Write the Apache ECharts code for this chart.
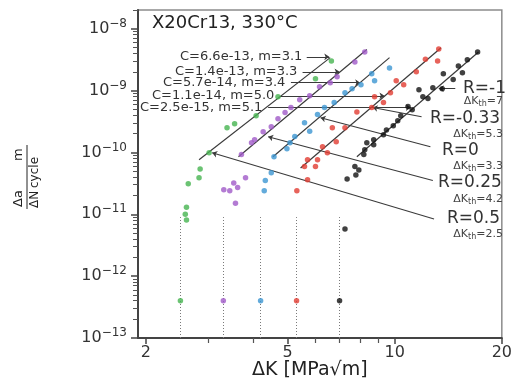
<!DOCTYPE html>
<html>
<head>
<meta charset="utf-8">
<script src="https://cdn.jsdelivr.net/npm/echarts@6/dist/echarts.min.js"></script>
<style>
html,body{margin:0;padding:0;background:#fff;}
#main{width:515px;height:385px;}
</style>
</head>
<body>
<div id="main"></div>
<script>
// values: [dK (MPa sqrt m), da/dN (m/cycle)]
var greenData = [[6.64,3.0e-9],[5.99,1.55e-9],[4.70,7.9e-10],[4.08,3.9e-10],[3.55,2.9e-10],[3.38,2.5e-10],
    [3.01,9.9e-11],[2.84,5.4e-11],[2.82,3.9e-11],[2.63,3.1e-11],[2.60,1.3e-11],[2.58,1.0e-11],[2.60,8.1e-12]];
var purpleData = [[8.24,4.2e-9],[7.73,2.9e-9],[6.89,1.67e-9],[6.59,1.34e-9],[6.15,1.15e-9],[5.77,8.2e-10],
    [5.41,7.1e-10],[5.11,5.3e-10],[4.92,4.4e-10],[4.70,3.5e-10],[4.50,2.6e-10],[4.27,2.15e-10],[4.04,1.6e-10],
    [3.96,1.43e-10],[3.71,9.2e-11],[3.81,3.9e-11],[3.53,3.2e-11],[3.62,2.7e-11],[3.31,2.5e-11],[3.44,2.4e-11],[3.57,1.5e-11]];
var blueData = [[9.67,2.3e-9],[8.62,1.87e-9],[8.78,1.44e-9],[8.04,1.24e-9],[7.59,1.07e-9],[7.25,9.2e-10],
    [6.76,6.4e-10],[6.35,5.3e-10],[6.07,4.1e-10],[5.58,3.0e-10],[5.77,2.2e-10],[5.24,1.8e-10],[5.08,1.43e-10],
    [4.98,1.14e-10],[4.58,8.5e-11],[4.50,4.7e-11],[4.33,3.5e-11],[4.30,2.4e-11]];
var redData = [[13.3,4.7e-9],[13.2,3.0e-9],[12.2,3.2e-9],[11.5,2.0e-9],[10.1,1.44e-9],[10.6,1.24e-9],
    [9.73,9.2e-10],[8.78,7.9e-10],[9.30,6.4e-10],[8.62,5.3e-10],[7.83,4.5e-10],[7.25,2.5e-10],[6.68,2.5e-10],
    [6.85,1.48e-10],[6.27,1.23e-10],[6.47,9.9e-11],[6.07,7.6e-11],[5.69,7.6e-11],[5.58,5.9e-11],[5.99,5.9e-11],
    [5.69,3.6e-11],[5.31,2.4e-11]];
var blackData = [[17.1,4.2e-9],[16.0,3.15e-9],[15.1,2.5e-9],[15.5,1.94e-9],[13.7,1.87e-9],[14.6,1.5e-9],
    [13.6,1.07e-9],[12.8,1.11e-9],[11.7,1.03e-9],[12.0,7.9e-10],[12.4,7.4e-10],[10.9,5.5e-10],[11.2,4.9e-10],
    [10.4,3.9e-10],[10.2,3.25e-10],[9.91,2.7e-10],[9.48,2.3e-10],[9.30,1.93e-10],[8.73,1.6e-10],[8.35,1.43e-10],
    [8.73,1.33e-10],[8.24,1.1e-10],[8.19,9.2e-11],[7.73,5.9e-11],[7.93,5.2e-11],[7.78,4.3e-11],[7.35,3.7e-11],[7.25,5.8e-12]];

var thresholdK = [2.5, 3.3, 4.2, 5.3, 7];
var thresholdRate = 4e-13;
var thresholdLineTop = 9e-12;

var fitLines = [
    [[2.82,7.6e-11],[6.59,3.4e-9]],
    [[3.64,8.5e-11],[8.35,4.6e-9]],
    [[4.55,8.5e-11],[9.67,3.4e-9]],
    [[5.44,5.6e-11],[13.5,4.9e-9]],
    [[7.83,8.5e-11],[17.2,4.2e-9]]
];

var leftNotes = ['C=6.6e-13, m=3.1','C=1.4e-13, m=3.3','C=5.7e-14, m=3.4','C=1.1e-14, m=5.0','C=2.5e-15, m=5.1'];
var leftArrows = [
    [[5.66,3.5e-9],[6.55,3.5e-9]],
    [[5.51,2.0e-9],[7.0,2.0e-9]],
    [[5.11,1.34e-9],[8.0,1.34e-9]],
    [[4.76,8.2e-10],[9.36,8.2e-10]],
    [[4.41,5.3e-10],[11.1,5.3e-10]]
];
var rNotes = ['R=-1','R=-0.33','R=0','R=0.25','R=0.5'];
var kthNotes = ['7','5.3','3.3','4.2','2.5'];
var rArrows = [
    [[14.8,1.07e-9],[13.3,1.07e-9]],
    [[11.9,3.77e-10],[8.67,5.3e-10]],
    [[12.6,1.23e-10],[6.19,3.63e-10]],
    [[12.8,3.5e-11],[4.41,1.79e-10]],
    [[12.9,8.4e-12],[3.07,9.85e-11]]
];

var xTicks = [2, 5, 10, 20];
var xMinorTicks = [3, 4, 6, 7, 8, 9];
var yTicks = [1e-13, 1e-12, 1e-11, 1e-10, 1e-9, 1e-8];

var colors = ['#46b450', '#a05ac8', '#3c96d2', '#e13c32', '#111111'];
var groups = [greenData, purpleData, blueData, redData, blackData];
var FONT = 'DejaVu Sans';

var yMinorTicks = [];
for (var e = -13; e <= -8; e++) {
    for (var k = 2; k <= 9; k++) {
        var v = k * Math.pow(10, e);
        if (v <= 2e-8) yMinorTicks.push(v);
    }
}

var myChart = echarts.init(document.getElementById('main'));

var series = [];
// dotted threshold lines
series.push({
    type: 'lines', coordinateSystem: 'cartesian2d', z: 1,
    lineStyle: {color: '#7a7a7a', width: 1, type: [1, 2], opacity: 1},
    data: thresholdK.map(function (k) { return {coords: [[k, 1e-13], [k, thresholdLineTop]]}; })
});
fitLines.forEach(function (l) {
    series.push({
        type: 'line', data: l, symbol: 'none', z: 2, silent: true,
        lineStyle: {color: '#3a3a3a', width: 1.2}
    });
});
series.push({
    type: 'lines', coordinateSystem: 'cartesian2d', z: 2,
    symbol: ['none', 'arrow'], symbolSize: 5,
    lineStyle: {color: '#3a3a3a', width: 1.1, opacity: 1},
    data: leftArrows.concat(rArrows).map(function (c) { return {coords: c}; })
});
groups.forEach(function (pts, i) {
    series.push({
        type: 'scatter', symbolSize: 5.5, z: 3,
        itemStyle: {color: colors[i]},
        data: pts.concat([[thresholdK[i], thresholdRate]])
    });
});

var graphics = [];
graphics.push({
    type: 'text', left: 152, top: 14,
    style: {text: 'X20Cr13, 330°C', font: '18px "DejaVu Sans"', fill: '#222'}
});
var noteX = [180, 175, 163, 152, 140];
var noteY = [57, 72, 83, 96, 108];
leftNotes.forEach(function (t, i) {
    graphics.push({
        type: 'text', x: noteX[i], y: noteY[i],
        style: {text: t, font: '13px "DejaVu Sans"', fill: '#333', textVerticalAlign: 'middle'}
    });
});
var rX = [463, 430, 442, 438, 447];
var rY = [89, 119, 151, 183, 219];
var kY = [101, 134, 166, 199, 234];
rNotes.forEach(function (t, i) {
    graphics.push({
        type: 'text', x: rX[i], y: rY[i],
        style: {text: t, font: '17px "DejaVu Sans"', fill: '#333', textVerticalAlign: 'middle'}
    });
    graphics.push({
        type: 'text', x: 503, y: kY[i],
        style: {
            text: '{a|ΔK}{s|th}{a|=' + kthNotes[i] + '}',
            textAlign: 'right', textVerticalAlign: 'middle',
            rich: {
                a: {fontSize: 11, fontFamily: FONT, fill: '#444', color: '#444'},
                s: {fontSize: 8, fontFamily: FONT, fill: '#444', color: '#444', padding: [6, 0, 0, 0]}
            }
        }
    });
});
graphics.push({
    type: 'text', left: 252, top: 361,
    style: {text: 'ΔK [MPa√m]', font: '19px "DejaVu Sans"', fill: '#222'}
});
graphics.push({
    type: 'group', x: 27, y: 176, rotation: Math.PI / 2,
    children: [
        {type: 'text', x: -31, y: -2, style: {text: 'Δa', font: '13px "DejaVu Sans"', fill: '#222', textVerticalAlign: 'bottom'}},
        {type: 'text', x: 15, y: -2, style: {text: 'm', font: '13px "DejaVu Sans"', fill: '#222', textVerticalAlign: 'bottom'}},
        {type: 'line', shape: {x1: -33, y1: 0, x2: 31, y2: 0}, style: {stroke: '#222', lineWidth: 1}},
        {type: 'text', x: -32, y: 2, style: {text: 'ΔN', font: '12px "DejaVu Sans"', fill: '#222', textVerticalAlign: 'top'}},
        {type: 'text', x: -12, y: 2, style: {text: 'cycle', font: '12px "DejaVu Sans"', fill: '#222', textVerticalAlign: 'top'}}
    ]
});

var option = {
    animation: false,
    backgroundColor: '#fff',
    grid: {left: 138, right: 8, top: 10, bottom: 47, show: true, borderColor: '#8c8c8c', borderWidth: 1.5},
    xAxis: [{
        type: 'log', logBase: 10, min: 1.9, max: 20,
        axisLine: {lineStyle: {color: '#444', width: 2}},
        axisTick: {show: true, customValues: xTicks, length: 6, lineStyle: {color: '#444', width: 1.5}},
        axisLabel: {customValues: xTicks, margin: 7, fontSize: 16, fontFamily: FONT, color: '#333',
            formatter: function (v) { return String(Math.round(v)); }},
        splitLine: {show: false}
    }, {
        type: 'log', logBase: 10, min: 1.9, max: 20, position: 'bottom',
        axisLine: {show: false},
        axisTick: {show: true, customValues: xMinorTicks, length: 5, lineStyle: {color: '#555', width: 1.2}},
        axisLabel: {show: false},
        splitLine: {show: false}
    }],
    yAxis: [{
        type: 'log', logBase: 10, min: 1e-13, max: 2e-8,
        axisLine: {lineStyle: {color: '#444', width: 2}},
        axisTick: {show: true, customValues: yTicks, length: 7, lineStyle: {color: '#444', width: 1.5}},
        axisLabel: {
            customValues: yTicks, margin: 11, fontSize: 16, fontFamily: FONT, color: '#333',
            formatter: function (v) {
                var ex = Math.round(Math.log(v) / Math.LN10);
                return '10{s|' + (ex < 0 ? '\u2212' : '') + Math.abs(ex) + '}';
            },
            rich: {s: {fontSize: 12, fontFamily: FONT, color: '#333', padding: [0, 0, 10, 0]}}
        },
        splitLine: {show: false}
    }, {
        type: 'log', logBase: 10, min: 1e-13, max: 2e-8, position: 'left',
        axisLine: {show: false},
        axisTick: {show: true, customValues: yMinorTicks, length: 5, lineStyle: {color: '#555', width: 1}},
        axisLabel: {show: false},
        splitLine: {show: false}
    }],
    series: series,
    graphic: graphics
};
myChart.setOption(option);
</script>
</body>
</html>
